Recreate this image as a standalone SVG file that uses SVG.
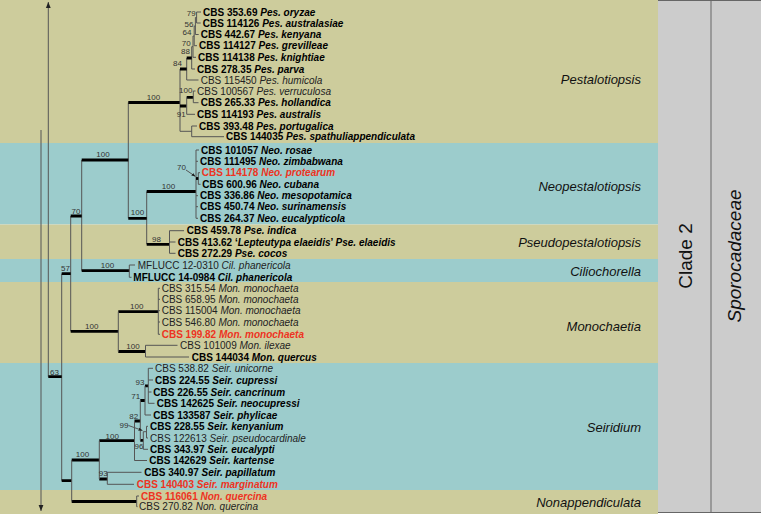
<svg xmlns="http://www.w3.org/2000/svg" width="761" height="514" viewBox="0 0 761 514">
<defs>
<style>
.th{stroke:#555;stroke-width:1;fill:none}
.tk{stroke:#000;stroke-width:2.8;fill:none}
text{font-family:"Liberation Sans",Arial,sans-serif}
.b{font-size:10px;font-weight:bold;fill:#000}
.n{font-size:10px;fill:#222}
.r{font-size:10px;font-weight:bold;fill:#ee3322}
.i{font-style:italic}
.bs{font-size:8px;fill:#333;text-anchor:middle}
.g{font-size:13px;font-style:italic;fill:#111;text-anchor:end}
</style>
<marker id="ah" viewBox="0 0 10 10" refX="10" refY="5" markerWidth="6" markerHeight="6" markerUnits="userSpaceOnUse" orient="auto"><path d="M0 1L10 5L0 9z" fill="#222"/></marker>
<marker id="sa" viewBox="0 0 10 10" refX="10" refY="5" markerWidth="4" markerHeight="4" markerUnits="userSpaceOnUse" orient="auto"><path d="M0 1L10 5L0 9z" fill="#222"/></marker>
</defs>
<g id="bands">
<rect x="0" y="0" width="658" height="143" fill="#cdcc9c"/>
<rect x="0" y="143" width="658" height="81.5" fill="#9ccccc"/>
<rect x="0" y="224.5" width="658" height="34.5" fill="#cdcc9c"/>
<rect x="0" y="259" width="658" height="23" fill="#9ccccc"/>
<rect x="0" y="282" width="658" height="81" fill="#cdcc9c"/>
<rect x="0" y="363" width="658" height="127" fill="#9ccccc"/>
<rect x="0" y="490" width="658" height="24" fill="#cdcc9c"/>
<rect x="658" y="0" width="103" height="513" fill="#cccccc"/>
<path d="M658 0.5H761M658 512.5H761M711 0V513" stroke="#666" stroke-width="1" fill="none"/>
</g>
<g id="labels">
<text class="g" x="641" y="84">Pestalotiopsis</text>
<text class="g" x="641" y="190.5">Neopestalotiopsis</text>
<text class="g" x="641" y="247">Pseudopestalotiopsis</text>
<text class="g" x="641" y="275.5">Ciliochorella</text>
<text class="g" x="641" y="330.5">Monochaetia</text>
<text class="g" x="641" y="432">Seiridium</text>
<text class="g" x="641" y="506.5">Nonappendiculata</text>
<text transform="translate(692,256) rotate(-90)" text-anchor="middle" font-size="19" fill="#111">Clade 2</text>
<text transform="translate(741,256) rotate(-90)" text-anchor="middle" font-size="19" font-style="italic" fill="#111">Sporocadaceae</text>
</g>
<g id="connectors">
<path class="th" d="M48.3 376.7V2" marker-end="url(#ah)"/>
<path class="th" d="M41 130V511" marker-end="url(#ah)"/>
<path class="th" d="M61.7 273.7V480.7M70.7 216V331.3M81.7 160V270.7M128.3 102.5V218.3M146.7 191.5V244.3"/>
<path class="tk" d="M48.3 376.7H61.7M61.7 273.7H70.7M70.7 216H81.7M81.7 160H128.3M81.7 270.7H129.3M128.3 102.5H180M128.3 218.3H146.7M146.7 191.5H196M146.7 244.3H169.5"/>
<!-- Cil -->
<path class="th" d="M129.3 265V277.3M129.3 265H135M129.3 277.3H131.5"/>
<!-- Pse -->
<path class="th" d="M169.5 230.7V253.3M169.5 230.7H184M169.5 242H175.5M169.5 253.3H175.5"/>
<!-- Neo -->
<path class="th" d="M196 150V218.3M196 150H199M196 161.3H198M196 195.7H198M196 206.7H198M196 218.3H198M198.3 172.7V184.3M198.3 172.7H200M198.3 184.3H200.5"/>
<path class="tk" d="M196 178.5H198.3" stroke-width="2"/>
<path class="th" d="M186 170L195.5 176.5" marker-end="url(#sa)"/>
<!-- Pes -->
<path class="th" d="M180 69V131.3M186.7 58V80M186.7 80H198.5M191.7 46.7V69M191.7 69H195M193 36V57.3M193 57.3H196M194.2 26V45.7M194.2 45.7H197M195.4 17.5V34.5M195.4 34.5H198.7M196.6 12V23M196.6 12H201M196.6 23H200.7M191.7 46.7H193M193 36H194.2M194.2 26H195.4M195.4 17.5H196.6"/>
<path class="tk" d="M180 69H186.7M186.7 58H191.7M180 106H186.7M186.7 97.3H193.3"/>
<path class="th" d="M186.7 97.3V114.3M186.7 114.3H195M193.3 91V102.7M193.3 91H195.5M193.3 102.7H198.5M180 131.3H191.7M191.7 126V136.7M191.7 126H197M191.7 136.7H224"/>
<!-- Mon -->
<path class="tk" d="M70.7 331.3H118.3M118.3 311.7H158.3M118.3 351.5H145.5"/>
<path class="th" d="M118.3 311.7V351.5M158.3 288.3V334.3M158.3 288.3H160M158.3 299.3H160M158.3 310.7H160M158.3 322H160M158.3 334.3H160M145.5 345.3V357M145.5 345.3H177.5M145.5 357H189"/>
<!-- Seir + Non -->
<path class="tk" d="M61.7 480.7H71.7M71.7 460H99.3M99.3 440.7H134.5M99.3 479H107.3M71.7 501.5H136.7M134.5 421H140.3M140.3 400.5H145M145 385.8H148.3M140.3 440.3H143.3"/>
<path class="th" d="M71.7 460V501.5M99.3 440.7V479M107.3 472.3V484.3M107.3 472.3H141.5M107.3 484.3H134M134.5 421V460.5M134.5 460.5H147M140.3 400.5V440.3M145 385.8V415M145 415H151M148.3 368.3V403.3M148.3 368.3H153M148.3 380H153M148.3 392H151.5M148.3 403.3H154.5M143.3 431.7V449.3M143.3 449.3H148M143.3 431.7H146.5M146.5 426.3V438M146.5 426.3H148M146.5 438H148M136.7 496V506.7M136.7 496H139M136.7 506.7H137.5"/>
<path class="th" d="M128.5 425.5L142.5 430.5" marker-end="url(#sa)"/>
</g>
<g id="support">
<text class="bs" x="54.5" y="375">63</text>
<text class="bs" x="65.5" y="271">57</text>
<text class="bs" x="76" y="213.5">70</text>
<text class="bs" x="103" y="157">100</text>
<text class="bs" x="107.5" y="268">100</text>
<text class="bs" x="153.5" y="99.5">100</text>
<text class="bs" x="137.5" y="215">100</text>
<text class="bs" x="168.5" y="188.5">100</text>
<text class="bs" x="156.5" y="241.5">98</text>
<text class="bs" x="181.5" y="170">70</text>
<text class="bs" x="191.3" y="16.2">79</text>
<text class="bs" x="189" y="26.9">56</text>
<text class="bs" x="187" y="35.2">64</text>
<text class="bs" x="186.3" y="45.6">70</text>
<text class="bs" x="185.5" y="53.6">88</text>
<text class="bs" x="177.5" y="65.6">84</text>
<text class="bs" x="185.7" y="93">100</text>
<text class="bs" x="181.2" y="117">91</text>
<text class="bs" x="91.7" y="328.5">100</text>
<text class="bs" x="136.7" y="308.8">100</text>
<text class="bs" x="133" y="348.8">100</text>
<text class="bs" x="82.5" y="457">100</text>
<text class="bs" x="112.2" y="438.6">100</text>
<text class="bs" x="103.3" y="475.6">93</text>
<text class="bs" x="140" y="384.5">93</text>
<text class="bs" x="135.8" y="399">71</text>
<text class="bs" x="133.8" y="419">82</text>
<text class="bs" x="124" y="428">99</text>
<text class="bs" x="139" y="449">96</text>
</g>
<g id="t_pes_oryzae"><text class="b" x="203" y="15.6">CBS 353.69 <tspan class="i">Pes. oryzae</tspan></text></g>
<g id="t_pes_australasiae"><text class="b" x="202.7" y="26.6">CBS 114126 <tspan class="i">Pes. australasiae</tspan></text></g>
<g id="t_pes_kenyana"><text class="b" x="200.7" y="38.1">CBS 442.67 <tspan class="i">Pes. kenyana</tspan></text></g>
<g id="t_pes_grevilleae"><text class="b" x="199" y="49.3">CBS 114127 <tspan class="i">Pes. grevilleae</tspan></text></g>
<g id="t_pes_knightiae"><text class="b" x="198" y="60.9">CBS 114138 <tspan class="i">Pes. knightiae</tspan></text></g>
<g id="t_pes_parva"><text class="b" x="197" y="72.6">CBS 278.35 <tspan class="i">Pes. parva</tspan></text></g>
<g id="t_pes_humicola"><text class="n" x="200.7" y="83.6">CBS 115450 <tspan class="i">Pes. humicola</tspan></text></g>
<g id="t_pes_verruculosa"><text class="n" x="197" y="94.6">CBS 100567 <tspan class="i">Pes. verruculosa</tspan></text></g>
<g id="t_pes_hollandica"><text class="b" x="200.7" y="106.3">CBS 265.33 <tspan class="i">Pes. hollandica</tspan></text></g>
<g id="t_pes_australis"><text class="b" x="197" y="117.9">CBS 114193 <tspan class="i">Pes. australis</tspan></text></g>
<g id="t_pes_portugalica"><text class="b" x="199" y="129.6">CBS 393.48 <tspan class="i">Pes. portugalica</tspan></text></g>
<g id="t_pes_spathuliappendiculata"><text class="b" x="226" y="140.3">CBS 144035 <tspan class="i">Pes. spathuliappendiculata</tspan></text></g>
<g id="t_neo_rosae"><text class="b" x="201" y="153.6">CBS 101057 <tspan class="i">Neo. rosae</tspan></text></g>
<g id="t_neo_zimbabwana"><text class="b" x="200" y="164.9">CBS 111495 <tspan class="i">Neo. zimbabwana</tspan></text></g>
<g id="t_neo_protearum"><text class="r" x="201.7" y="176.3">CBS 114178 <tspan class="i">Neo. protearum</tspan></text></g>
<g id="t_neo_cubana"><text class="b" x="202.3" y="187.9">CBS 600.96 <tspan class="i">Neo. cubana</tspan></text></g>
<g id="t_neo_mesopotamica"><text class="b" x="200" y="199.3">CBS 336.86 <tspan class="i">Neo. mesopotamica</tspan></text></g>
<g id="t_neo_surinamensis"><text class="b" x="200" y="210.3">CBS 450.74 <tspan class="i">Neo. surinamensis</tspan></text></g>
<g id="t_neo_eucalypticola"><text class="b" x="200" y="221.9">CBS 264.37 <tspan class="i">Neo. eucalypticola</tspan></text></g>
<g id="t_pse_indica"><text class="b" x="186.7" y="234.3">CBS 459.78 <tspan class="i">Pse. indica</tspan></text></g>
<g id="t_pse_elaeidis"><text class="b" x="177.7" y="245.6">CBS 413.62 ‘<tspan class="i">Lepteutypa elaeidis</tspan>’ <tspan class="i">Pse. elaeidis</tspan></text></g>
<g id="t_pse_cocos"><text class="b" x="177.7" y="256.9">CBS 272.29 <tspan class="i">Pse. cocos</tspan></text></g>
<g id="t_cil_1"><text class="n" x="137.7" y="268.6">MFLUCC 12-0310 <tspan class="i">Cil. phanericola</tspan></text></g>
<g id="t_cil_2"><text class="b" x="133.3" y="280.9">MFLUCC 14-0984 <tspan class="i">Cil. phanericola</tspan></text></g>
<g id="t_mon_1"><text class="n" x="161.7" y="291.9">CBS 315.54 <tspan class="i">Mon. monochaeta</tspan></text></g>
<g id="t_mon_2"><text class="n" x="161.7" y="302.9">CBS 658.95 <tspan class="i">Mon. monochaeta</tspan></text></g>
<g id="t_mon_3"><text class="n" x="161.7" y="314.3">CBS 115004 <tspan class="i">Mon. monochaeta</tspan></text></g>
<g id="t_mon_4"><text class="n" x="161.7" y="325.6">CBS 546.80 <tspan class="i">Mon. monochaeta</tspan></text></g>
<g id="t_mon_5"><text class="r" x="161.7" y="337.9">CBS 199.82 <tspan class="i">Mon. monochaeta</tspan></text></g>
<g id="t_mon_ilexae"><text class="n" x="180" y="348.9">CBS 101009 <tspan class="i">Mon. ilexae</tspan></text></g>
<g id="t_mon_quercus"><text class="b" x="191.7" y="360.6">CBS 144034 <tspan class="i">Mon. quercus</tspan></text></g>
<g id="t_seir_unicorne"><text class="n" x="155" y="371.9">CBS 538.82 <tspan class="i">Seir. unicorne</tspan></text></g>
<g id="t_seir_cupressi"><text class="b" x="155" y="383.6">CBS 224.55 <tspan class="i">Seir. cupressi</tspan></text></g>
<g id="t_seir_cancrinum"><text class="b" x="153.3" y="395.6">CBS 226.55 <tspan class="i">Seir. cancrinum</tspan></text></g>
<g id="t_seir_neocupressi"><text class="b" x="156.7" y="406.9">CBS 142625 <tspan class="i">Seir. neocupressi</tspan></text></g>
<g id="t_seir_phylicae"><text class="b" x="153.3" y="418.6">CBS 133587 <tspan class="i">Seir. phylicae</tspan></text></g>
<g id="t_seir_kenyanium"><text class="b" x="150" y="429.9">CBS 228.55 <tspan class="i">Seir. kenyanium</tspan></text></g>
<g id="t_seir_pseudocardinale"><text class="n" x="150" y="441.6">CBS 122613 <tspan class="i">Seir. pseudocardinale</tspan></text></g>
<g id="t_seir_eucalypti"><text class="b" x="150" y="452.9">CBS 343.97 <tspan class="i">Seir. eucalypti</tspan></text></g>
<g id="t_seir_kartense"><text class="b" x="149.3" y="464.3">CBS 142629 <tspan class="i">Seir. kartense</tspan></text></g>
<g id="t_seir_papillatum"><text class="b" x="144.3" y="475.9">CBS 340.97 <tspan class="i">Seir. papillatum</tspan></text></g>
<g id="t_seir_marginatum"><text class="r" x="136.7" y="487.9">CBS 140403 <tspan class="i">Seir. marginatum</tspan></text></g>
<g id="t_non_1"><text class="r" x="141" y="499.6">CBS 116061 <tspan class="i">Non. quercina</tspan></text></g>
<g id="t_non_2"><text class="n" x="139" y="510.3">CBS 270.82 <tspan class="i">Non. quercina</tspan></text></g>
</svg>
